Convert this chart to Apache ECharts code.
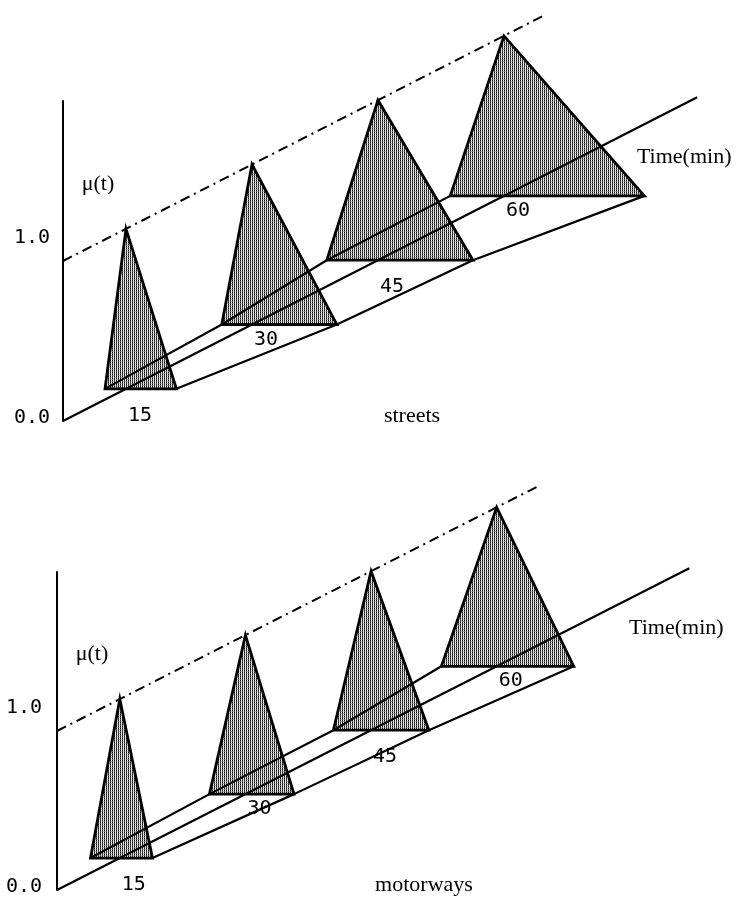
<!DOCTYPE html>
<html><head><meta charset="utf-8">
<script src="https://cdn.jsdelivr.net/npm/echarts@6/dist/echarts.min.js"></script>
<style>html,body{margin:0;padding:0;background:#fff}#c{width:739px;height:900px}</style>
</head><body><div id="c"></div>
<script>
// ---------------- data ----------------
const peakTimes = [15, 30, 45, 60];              // modal travel time (min)
const tickLabels = ['15', '30', '45', '60'];
const streetsLower = [12.5, 26.4, 38.9, 53.6];   // left end of support (min)
const streetsUpper = [21.0, 40.1, 56.3, 76.7];   // right end of support (min)
const motorwaysLower = [11.5, 25.7, 40.5, 53.4];
const motorwaysUpper = [18.9, 35.8, 51.9, 69.2];
const peakMembership = 1.0;
const muTickValues = [0, 1];
const muTickLabels = ['0.0', '1.0'];
const timeAxisStart = 7.5;
const timeAxisEnd = 83;
const refLineEnd = 65;
const muAxisMax = 2.0;

// ---------------- layout / style ----------------
const K = 0.0268; // oblique depth slope (mu units per minute)
const MONO = '20px "DejaVu Sans Mono"';
const SERIF = '22px "Liberation Serif"';
const panels = [
  { title: 'streets', lower: streetsLower, upper: streetsUpper,
    grid: { left: 63, top: 101, width: 672, height: 320 },
    numDx: -31, titlePos: [412, 416] },
  { title: 'motorways', lower: motorwaysLower, upper: motorwaysUpper,
    grid: { left: 57, top: 572, width: 670, height: 318 },
    numDx: -33, titlePos: [424, 885] }
];
const tickDx = 14, tickDy = [27, 15, 27, 15];
const muTickDy = [-3, -23];
const muTitleLevel = 1.48, muTitleDx = 35;
const timeTitleOffset = [-13, 60];

function makePattern() {
  const c = document.createElement('canvas'); c.width = 2; c.height = 2;
  const g = c.getContext('2d');
  g.fillStyle = '#111'; g.fillRect(0, 0, 1, 1);
  g.fillStyle = '#555'; g.fillRect(0, 1, 1, 1);
  g.fillStyle = '#fff'; g.fillRect(1, 0, 1, 1);
  g.fillStyle = '#c4c4c4'; g.fillRect(1, 1, 1, 1);
  return c;
}
const pattern = { image: makePattern(), repeat: 'repeat' };
const depth = t => K * (t - timeAxisStart);

const grids = [], xAxes = [], yAxes = [], series = [];
panels.forEach((p, i) => {
  grids.push(p.grid);
  xAxes.push({ type: 'value', gridIndex: i, min: timeAxisStart, max: 87.5, show: false });
  yAxes.push({ type: 'value', gridIndex: i, min: 0, max: muAxisMax,
    axisLine: { show: true, lineStyle: { color: '#000', width: 2 } },
    axisTick: { show: false }, axisLabel: { show: false }, splitLine: { show: false } });
  const ax = { xAxisIndex: i, yAxisIndex: i };
  // triangles
  series.push(Object.assign({
    type: 'custom', z: 2, silent: true, clip: false,
    data: peakTimes.map((pk, j) => [p.lower[j], pk, p.upper[j]]),
    renderItem: (params, api) => {
      const lo = api.value(0), pk = api.value(1), hi = api.value(2);
      const b = depth(pk);
      return { type: 'polygon',
        shape: { points: [api.coord([lo, b]), api.coord([pk, b + peakMembership]), api.coord([hi, b])] },
        style: { fill: pattern, stroke: '#000', lineWidth: 2.8, lineJoin: 'miter' } };
    }
  }, ax));
  const lineOpts = { type: 'line', z: 3, symbol: 'none', silent: true, animation: false, clip: false,
    lineStyle: { color: '#000', width: 2.2 } };
  // connectors of support ends
  series.push(Object.assign({}, lineOpts, ax, { data: p.lower.map((lo, j) => [lo, depth(peakTimes[j])]) }));
  series.push(Object.assign({}, lineOpts, ax, { data: p.upper.map((hi, j) => [hi, depth(peakTimes[j])]) }));
  // time axis
  series.push(Object.assign({}, lineOpts, ax, { data: [[timeAxisStart, 0], [timeAxisEnd, depth(timeAxisEnd)]] }));
  // dash-dot mu=1 line
  series.push(Object.assign({}, lineOpts, ax, {
    data: [[timeAxisStart, peakMembership], [refLineEnd, peakMembership + depth(refLineEnd)]],
    lineStyle: { color: '#000', width: 2, type: [10, 5, 2, 5] } }));
  // tick labels on time axis
  series.push(Object.assign({
    type: 'custom', z: 4, silent: true, clip: false,
    data: peakTimes.map((pk, j) => [pk, depth(pk), j]),
    renderItem: (params, api) => {
      const c = api.coord([api.value(0), api.value(1)]);
      const j = api.value(2);
      return { type: 'text', x: c[0] + tickDx, y: c[1] + tickDy[j],
        style: { text: tickLabels[j], font: MONO, fill: '#000', align: 'center', verticalAlign: 'middle' } };
    }
  }, ax));
  // mu tick labels + axis titles
  series.push(Object.assign({
    type: 'custom', z: 4, silent: true, clip: false,
    data: muTickValues.map((v, j) => [timeAxisStart, v, j]),
    renderItem: (params, api) => {
      const c = api.coord([api.value(0), api.value(1)]);
      const j = api.value(2);
      return { type: 'text', x: c[0] + p.numDx, y: c[1] + muTickDy[j],
        style: { text: muTickLabels[j], font: MONO, fill: '#000', align: 'center', verticalAlign: 'middle' } };
    }
  }, ax));
  series.push(Object.assign({
    type: 'custom', z: 4, silent: true, clip: false,
    data: [[timeAxisStart, muTitleLevel, 0], [timeAxisEnd, depth(timeAxisEnd), 1]],
    renderItem: (params, api) => {
      const c = api.coord([api.value(0), api.value(1)]);
      const isTime = api.value(2) === 1;
      return { type: 'text',
        x: c[0] + (isTime ? timeTitleOffset[0] : muTitleDx),
        y: c[1] + (isTime ? timeTitleOffset[1] : 0),
        style: { text: isTime ? 'Time(min)' : 'μ(t)', font: SERIF, fill: '#000', align: 'center', verticalAlign: 'middle' } };
    }
  }, ax));
});

const chart = echarts.init(document.getElementById('c'));
chart.setOption({
  animation: false,
  backgroundColor: '#fff',
  grid: grids, xAxis: xAxes, yAxis: yAxes, series: series,
  graphic: panels.map(p => ({ type: 'text', x: p.titlePos[0], y: p.titlePos[1], silent: true,
    style: { text: p.title, font: SERIF, fill: '#000', align: 'center', verticalAlign: 'middle' } }))
});
</script></body></html>
